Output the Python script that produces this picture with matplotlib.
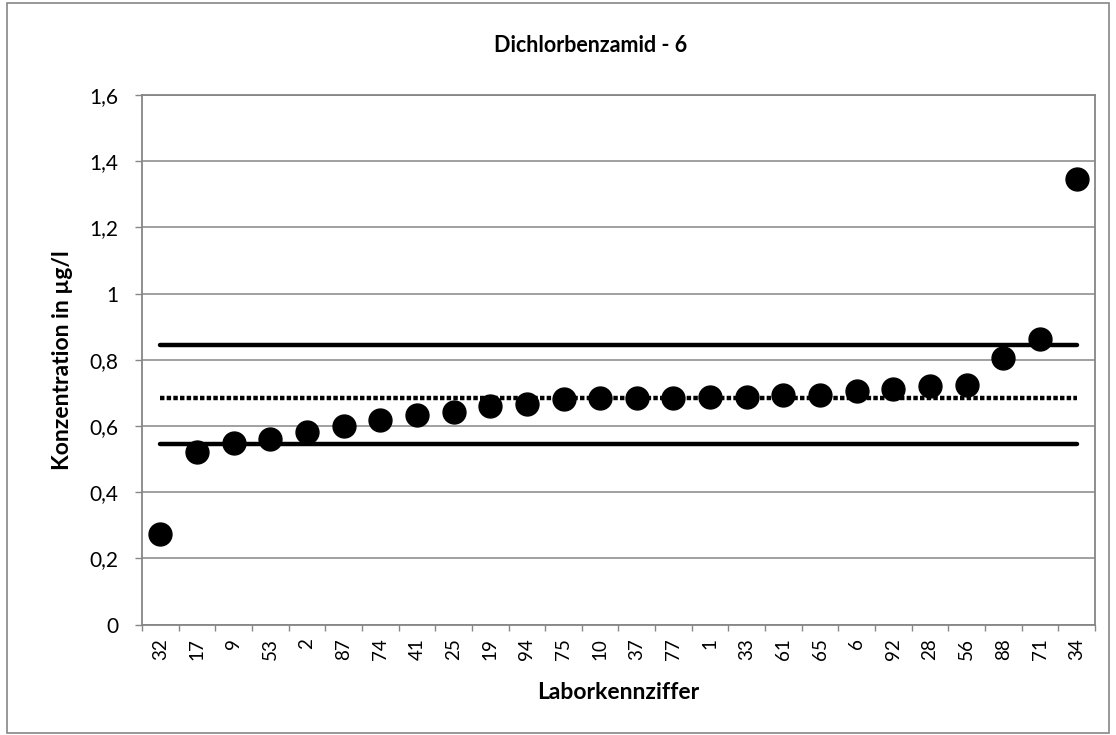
#!/usr/bin/env python3
"""Dichlorbenzamid - 6: lab results sorted ascending with reference lines."""
import matplotlib

matplotlib.use("Agg")
import matplotlib.pyplot as plt
import numpy as np
from matplotlib.patches import Rectangle

labs = ["32", "17", "9", "53", "2", "87", "74", "41", "25", "19", "94", "75", "10",
        "37", "77", "1", "33", "61", "65", "6", "92", "28", "56", "88", "71", "34"]
values = [0.273, 0.522, 0.549, 0.562, 0.582, 0.601, 0.617, 0.632, 0.642, 0.659,
          0.667, 0.682, 0.685, 0.685, 0.685, 0.687, 0.689, 0.695, 0.695, 0.706,
          0.711, 0.721, 0.723, 0.806, 0.864, 1.345]
upper_limit = 0.845
assigned = 0.686
lower_limit = 0.545
y_ticks = [0, 0.2, 0.4, 0.6, 0.8, 1.0, 1.2, 1.4, 1.6]
y_ticklabels = ["0", "0,2", "0,4", "0,6", "0,8", "1", "1,2", "1,4", "1,6"]

GRID = "#868686"
FONT = "Lato"

fig = plt.figure(figsize=(11.16, 7.35), dpi=100)
ax = fig.add_axes([0.1272, 0.1503, 0.8540, 0.7204])

x = np.arange(len(labs))
ax.plot([x[0], x[-1]], [upper_limit] * 2, color="black", linewidth=3.2,
        solid_capstyle="round", zorder=2)
ax.plot([x[0], x[-1]], [lower_limit] * 2, color="black", linewidth=3.2,
        solid_capstyle="round", zorder=2)
ax.plot([x[0], x[-1]], [assigned] * 2, color="black", linewidth=3.2,
        linestyle=(0, (1.0, 0.5)), dash_capstyle="butt", zorder=2)
ax.plot(x, values, "o", color="black", markersize=16.5, zorder=3)

ax.set_xlim(-0.5, len(labs) - 0.5)
ax.set_ylim(0, 1.6)
ax.set_yticks(y_ticks)
ax.set_yticklabels(y_ticklabels, fontsize=15, family=FONT)
ax.set_xticks(x)
ax.set_xticklabels(labs, rotation=90, fontsize=13.5, family=FONT)
ax.set_xticks(np.arange(len(labs) + 1) - 0.5, minor=True)
ax.tick_params(axis="x", which="major", length=0, pad=10)
ax.tick_params(axis="x", which="minor", length=4, color=GRID, width=1)
ax.tick_params(axis="y", length=5, color=GRID, width=1, pad=12)
ax.grid(True, axis="y", color=GRID, linewidth=1.1, zorder=0)
ax.set_axisbelow(True)
for s in ax.spines.values():
    s.set_color(GRID)
    s.set_linewidth(1.3)

fig.text(0.529, 0.938, "Dichlorbenzamid - 6", ha="center", va="center",
         fontsize=15.5, fontweight="bold", family=FONT)
fig.text(0.554, 0.058, "Laborkennziffer", ha="center", va="center",
         fontsize=16.5, fontweight="bold", family=FONT)
fig.text(0.0556, 0.510, "Konzentration in µg/l", ha="center", va="center",
         rotation=90, fontsize=16.5, fontweight="bold", family=FONT)

# chart area border
fig.patches.append(Rectangle((0.006, 0.003), 0.988, 0.993, transform=fig.transFigure,
                             fill=False, edgecolor=GRID, linewidth=1.2))

fig.savefig("out.png", dpi=100)
